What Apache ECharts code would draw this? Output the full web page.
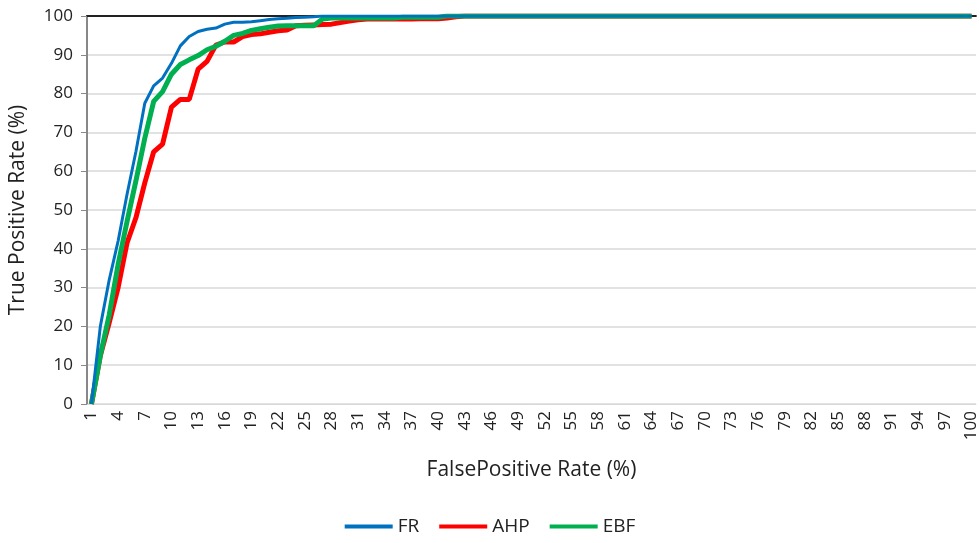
<!DOCTYPE html>
<html>
<head>
<meta charset="utf-8">
<script src="https://cdn.jsdelivr.net/npm/echarts@6/dist/echarts.min.js"></script>
<style>html,body{margin:0;padding:0;background:#fff;}#c{width:980px;height:543px;}</style>
</head>
<body>
<div id="c"></div>
<script>
var categories = [];
for (var i = 1; i <= 100; i++) categories.push(String(i));

var frHead = [0, 20, 32, 42, 54, 65, 77.5, 82, 84, 87.8, 92.3, 94.7, 96, 96.6, 96.9, 97.9, 98.4, 98.4, 98.5, 98.8, 99.1, 99.3, 99.4, 99.6, 99.7, 99.8];
var ahpHead = [0, 12.5, 21, 30, 41.5, 48, 57, 65, 67, 76.5, 78.5, 78.5, 86.3, 88.3, 92.5, 93.3, 93.3, 94.7, 95.2, 95.4, 95.8, 96.2, 96.4, 97.5, 97.6, 97.7, 97.8, 97.9, 98.3, 98.7, 99, 99.2, 99.2, 99.2, 99.2, 99.2, 99.2, 99.3, 99.3, 99.3, 99.5, 99.8];
var ebfHead = [0, 12.5, 23, 36, 47, 57.5, 68.5, 78, 80.5, 85, 87.5, 88.7, 89.8, 91.3, 92.2, 93.5, 95, 95.5, 96.3, 96.7, 97.1, 97.4, 97.5, 97.5, 97.5, 97.5, 99.2, 99.5, 99.5, 99.5, 99.5, 99.5, 99.5, 99.5, 99.5, 99.7, 99.7, 99.7, 99.7, 99.7];
var plateau = 100;

function fill(head) {
  var out = head.slice();
  while (out.length < categories.length) out.push(plateau);
  return out;
}
var FR = fill(frHead);
var AHP = fill(ahpHead);
var EBF = fill(ebfHead);

var font = 'Open Sans';
var chart = echarts.init(document.getElementById('c'));
chart.setOption({
  animation: false,
  textStyle: { fontFamily: font },
  grid: { left: 86, right: 4, top: 16, bottom: 139, containLabel: false },
  legend: {
    bottom: 2, left: 'center',
    itemWidth: 48, itemHeight: 4, itemGap: 20,
    textStyle: { fontSize: 19, color: '#222', fontFamily: font },
    data: [
      { name: 'FR', icon: 'rect', itemStyle: { color: '#0070c0' } },
      { name: 'AHP', icon: 'rect', itemStyle: { color: '#ff0000' } },
      { name: 'EBF', icon: 'rect', itemStyle: { color: '#00b050' } }
    ]
  },
  xAxis: [{
    type: 'category', data: categories, boundaryGap: true,
    name: 'FalsePositive Rate (%)', nameLocation: 'middle', nameGap: 56,
    nameTextStyle: { fontSize: 21, color: '#222', fontFamily: font },
    axisLine: { lineStyle: { color: '#d9d9d9', width: 1 } },
    axisTick: { show: false },
    axisLabel: { interval: 2, rotate: 90, fontSize: 17, color: '#222', margin: 7, fontFamily: font },
    splitLine: { show: false }
  }, {
    type: 'category', data: categories, position: 'top', boundaryGap: true,
    axisLine: { show: true, lineStyle: { color: '#222', width: 2 } },
    axisTick: { show: false }, axisLabel: { show: false }, splitLine: { show: false }
  }],
  yAxis: {
    type: 'value', min: 0, max: 100, interval: 10,
    name: 'True Positive Rate (%)', nameLocation: 'middle', nameGap: 58,
    nameTextStyle: { fontSize: 21, color: '#222', fontFamily: font },
    axisLine: { show: true, lineStyle: { color: '#888', width: 2 } },
    axisTick: { show: true, length: 6, lineStyle: { color: '#888' } },
    axisLabel: { fontSize: 17, color: '#222', margin: 14, fontFamily: font },
    splitLine: { lineStyle: { color: '#d9d9d9', width: 1.5 } }
  },
  series: [
    { name: 'AHP', type: 'line', data: AHP, symbol: 'none', lineStyle: { color: '#ff0000', width: 5 }, itemStyle: { color: '#ff0000' }, z: 2 },
    { name: 'EBF', type: 'line', data: EBF, symbol: 'none', lineStyle: { color: '#00b050', width: 5 }, itemStyle: { color: '#00b050' }, z: 3 },
    { name: 'FR', type: 'line', data: FR, symbol: 'none', lineStyle: { color: '#0070c0', width: 3 }, itemStyle: { color: '#0070c0' }, z: 4 }
  ]
});
</script>
</body>
</html>
